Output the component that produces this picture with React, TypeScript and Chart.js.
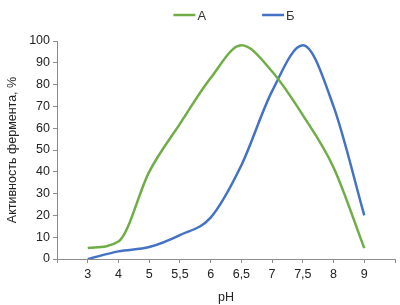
import React, { useEffect, useRef } from "react";
import { Chart, registerables } from "chart.js";

Chart.register(...registerables);

const phLabels = ["3", "4", "5", "5,5", "6", "6,5", "7", "7,5", "8", "9"];
const seriesA = [5, 8, 40, 62, 83, 98, 86, 66, 42, 5];
const seriesB = [0, 3.5, 5.5, 11, 19, 43, 77, 98, 70, 20];
const yTicks = [0, 10, 20, 30, 40, 50, 60, 70, 80, 90, 100];

const GREEN = "#70AD47";
const BLUE = "#4472C4";
const FONT = "'Liberation Sans', Arial, sans-serif";

const legendPlugin = {
  id: "topLegend",
  afterDraw(chart: any) {
    const ctx = chart.ctx;
    const items = chart.data.datasets.map((d: any) => ({ text: d.label, color: d.borderColor }));
    ctx.save();
    ctx.font = `13px ${FONT}`;
    ctx.textBaseline = "middle";
    const lineW = 22;
    const gap = 56;
    let total = 0;
    const widths = items.map((it: any) => lineW + 2 + ctx.measureText(it.text).width);
    widths.forEach((w: number) => (total += w));
    total += gap * (items.length - 1);
    let x = 234 - total / 2;
    const y = 15;
    items.forEach((it: any, i: number) => {
      ctx.strokeStyle = it.color;
      ctx.lineWidth = 2.5;
      ctx.beginPath();
      ctx.moveTo(x, y);
      ctx.lineTo(x + lineW, y);
      ctx.stroke();
      ctx.fillStyle = "#333";
      ctx.textAlign = "left";
      ctx.fillText(it.text, x + lineW + 2, y + 1);
      x += widths[i] + gap;
    });
    ctx.restore();
  },
};

export default function App() {
  const ref = useRef<HTMLCanvasElement | null>(null);
  useEffect(() => {
    if (!ref.current) return;
    const labels = ["", ...phLabels, ""];
    const chart = new Chart(ref.current, {
      type: "line",
      data: {
        labels,
        datasets: [
          {
            label: "А",
            data: [null, ...seriesA, null],
            borderColor: GREEN,
            backgroundColor: GREEN,
            borderWidth: 2.5,
            pointRadius: 0,
            cubicInterpolationMode: "monotone",
            fill: false,
          },
          {
            label: "Б",
            data: [null, ...seriesB, null],
            borderColor: BLUE,
            backgroundColor: BLUE,
            borderWidth: 2.5,
            pointRadius: 0,
            cubicInterpolationMode: "monotone",
            fill: false,
          },
        ],
      },
      options: {
        animation: false,
        responsive: false,
        maintainAspectRatio: false,
        layout: { padding: { top: 41, right: 5, bottom: 0, left: 0 } },
        plugins: {
          legend: { display: false },
          tooltip: { enabled: false },
        },
        scales: {
          x: {
            type: "category",
            offset: false,
            grid: {
              display: true,
              drawOnChartArea: false,
              drawTicks: true,
              tickLength: 4,
              color: "#8c8c8c",
            },
            border: { display: true, color: "#8c8c8c", width: 1 },
            ticks: {
              autoSkip: false,
              maxRotation: 0,
              padding: 4,
              color: "#222",
              font: { family: FONT, size: 12.5 },
            },
            title: {
              display: true,
              text: "pH",
              color: "#222",
              font: { family: FONT, size: 12.5 },
              padding: { top: 3, bottom: 0 },
            },
            afterFit(scale: any) {
              scale.height = 46;
            },
          },
          y: {
            min: 0,
            max: 100,
            afterBuildTicks(scale: any) {
              scale.ticks = yTicks.map((v) => ({ value: v }));
            },
            grid: {
              display: true,
              drawOnChartArea: false,
              drawTicks: true,
              tickLength: 4,
              color: "#8c8c8c",
            },
            border: { display: true, color: "#8c8c8c", width: 1 },
            ticks: {
              padding: 3,
              color: "#222",
              font: { family: FONT, size: 12.5 },
            },
            title: {
              display: true,
              text: "Активность фермента, %",
              color: "#222",
              font: { family: FONT, size: 12.5 },
              padding: { top: 5, bottom: 0 },
            },
            afterFit(scale: any) {
              scale.width = 57;
            },
          },
        },
      },
      plugins: [legendPlugin],
    });
    return () => chart.destroy();
  }, []);
  return (
    <div style={{ position: "fixed", left: 0, top: 0, width: 400, height: 305, background: "#fff" }}>
      <canvas ref={ref} width={400} height={305} style={{ width: 400, height: 305, display: "block" }} />
    </div>
  );
}
